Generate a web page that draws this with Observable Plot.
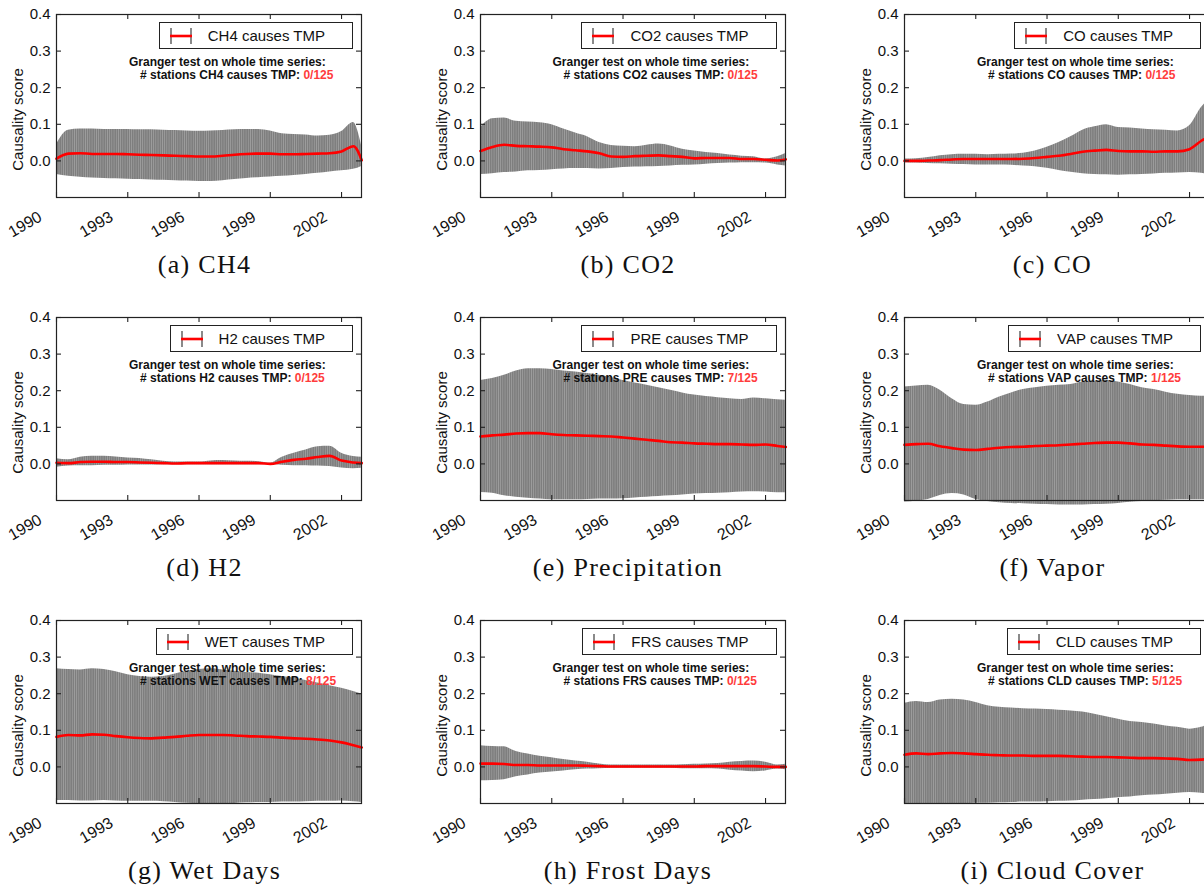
<!DOCTYPE html>
<html><head><meta charset="utf-8">
<script src="https://cdn.jsdelivr.net/npm/d3@7"></script>
<script src="https://cdn.jsdelivr.net/npm/@observablehq/plot@0.6"></script>
<style>
html,body{margin:0;padding:0;background:#fff;overflow:hidden;}
#root{position:relative;width:1204px;height:894px;overflow:hidden;background:#fff;}
.panel{position:absolute;}
.legend{position:absolute;display:flex;align-items:center;border:1px solid #222;background:#fff;height:27px;box-sizing:border-box;padding:0 27px 0 10px;font:15px "Liberation Sans",Arial,sans-serif;color:#111;white-space:nowrap;}
.legend svg{margin-right:16px;}
.ann{position:absolute;font:bold 12px "Liberation Sans",Arial,sans-serif;color:#111;white-space:nowrap;line-height:14px;}
.red{color:#ff3c3c;}
.cap{position:absolute;font:26px "Liberation Serif",serif;letter-spacing:1.3px;transform:translate(-50%,-50%);white-space:nowrap;color:#111;}
</style></head>
<body>
<svg width="0" height="0" style="position:absolute">
  <defs>
    <pattern id="stripes" patternUnits="userSpaceOnUse" width="2.2" height="10">
      <rect width="2.2" height="10" fill="#7e7e7e"></rect>
      <rect x="1.6" width="0.6" height="10" fill="#a6a6a6"></rect>
    </pattern>
  </defs>
</svg>
<div id="root"></div>
<script>
// ---- data ----
const years = [1990, 1990.5, 1991, 1991.5, 1992, 1992.5, 1993, 1993.5, 1994, 1994.5, 1995, 1995.5, 1996, 1996.5, 1997, 1997.5, 1998, 1998.5, 1999, 1999.5, 2000, 2000.5, 2001, 2001.5, 2002, 2002.5, 2002.85];
const xTicks = [1990, 1993, 1996, 1999, 2002];
const yTicks = [0.0, 0.1, 0.2, 0.3, 0.4];

const ch4Mean = [0.006,0.02,0.021,0.019,0.019,0.019,0.018,0.017,0.016,0.015,0.014,0.013,0.012,0.012,0.014,0.017,0.019,0.02,0.02,0.018,0.018,0.019,0.02,0.021,0.026,0.04,0.002];
const ch4Hi   = [0.045,0.084,0.087,0.087,0.086,0.086,0.086,0.085,0.085,0.084,0.083,0.082,0.081,0.082,0.083,0.085,0.086,0.086,0.082,0.074,0.072,0.071,0.068,0.07,0.08,0.105,0.04];
const ch4Lo   = [-0.037,-0.042,-0.045,-0.047,-0.048,-0.049,-0.05,-0.051,-0.052,-0.053,-0.054,-0.055,-0.056,-0.056,-0.054,-0.051,-0.048,-0.046,-0.044,-0.042,-0.04,-0.037,-0.034,-0.03,-0.027,-0.023,-0.015];

const co2Mean = [0.027,0.038,0.044,0.041,0.04,0.039,0.037,0.032,0.029,0.026,0.021,0.012,0.011,0.013,0.014,0.015,0.013,0.011,0.007,0.008,0.008,0.008,0.005,0.005,0.003,0.001,0.004];
const co2Hi   = [0.091,0.115,0.117,0.108,0.106,0.104,0.099,0.087,0.076,0.066,0.05,0.042,0.04,0.039,0.043,0.046,0.041,0.032,0.027,0.023,0.02,0.016,0.013,0.011,0.005,0.011,0.02];
const co2Lo   = [-0.037,-0.035,-0.032,-0.03,-0.027,-0.026,-0.024,-0.022,-0.021,-0.021,-0.022,-0.021,-0.018,-0.017,-0.016,-0.015,-0.014,-0.012,-0.011,-0.009,-0.007,-0.006,-0.005,-0.005,-0.006,-0.011,-0.014];

const coMean = [0.0,0.0,0.001,0.002,0.004,0.005,0.005,0.005,0.005,0.005,0.006,0.008,0.011,0.014,0.019,0.025,0.028,0.03,0.027,0.026,0.026,0.025,0.026,0.026,0.032,0.055,0.068];
const coHi   = [0.005,0.006,0.009,0.014,0.017,0.018,0.018,0.017,0.018,0.019,0.021,0.027,0.037,0.05,0.066,0.084,0.093,0.099,0.091,0.09,0.087,0.085,0.084,0.082,0.096,0.146,0.17];
const coLo   = [-0.005,-0.006,-0.007,-0.008,-0.009,-0.01,-0.011,-0.011,-0.011,-0.012,-0.014,-0.016,-0.02,-0.026,-0.031,-0.035,-0.037,-0.038,-0.039,-0.038,-0.037,-0.036,-0.034,-0.033,-0.032,-0.034,-0.038];

const h2Mean = [0.003,0.002,0.005,0.006,0.006,0.005,0.005,0.004,0.003,0.002,0.001,0.002,0.002,0.002,0.002,0.002,0.002,0.002,0.0,0.006,0.011,0.014,0.019,0.022,0.009,0.004,0.002];
const h2Hi   = [0.014,0.011,0.018,0.021,0.021,0.019,0.016,0.015,0.011,0.007,0.005,0.005,0.005,0.008,0.009,0.008,0.007,0.006,0.002,0.018,0.029,0.038,0.047,0.048,0.029,0.02,0.018];
const h2Lo   = [-0.009,-0.006,-0.005,-0.005,-0.004,-0.004,-0.003,-0.003,-0.003,-0.002,-0.002,-0.002,-0.002,-0.002,-0.002,-0.002,-0.002,-0.002,-0.001,-0.004,-0.005,-0.005,-0.006,-0.007,-0.011,-0.013,-0.012];

const preMean = [0.075,0.078,0.08,0.083,0.084,0.084,0.081,0.079,0.078,0.077,0.076,0.075,0.072,0.069,0.066,0.063,0.059,0.058,0.056,0.055,0.054,0.054,0.053,0.052,0.053,0.049,0.046];
const preHi   = [0.228,0.233,0.242,0.254,0.26,0.26,0.258,0.254,0.251,0.247,0.242,0.236,0.228,0.221,0.215,0.208,0.201,0.194,0.188,0.184,0.181,0.178,0.176,0.18,0.178,0.175,0.174];
const preLo   = [-0.078,-0.08,-0.087,-0.091,-0.094,-0.096,-0.098,-0.098,-0.098,-0.097,-0.096,-0.096,-0.095,-0.093,-0.091,-0.089,-0.087,-0.085,-0.082,-0.081,-0.08,-0.079,-0.077,-0.076,-0.077,-0.079,-0.079];

const vapMean = [0.052,0.054,0.055,0.048,0.043,0.039,0.038,0.041,0.044,0.046,0.047,0.049,0.05,0.051,0.053,0.055,0.057,0.058,0.058,0.056,0.053,0.052,0.05,0.048,0.047,0.047,0.047];
const vapHi   = [0.21,0.213,0.215,0.201,0.178,0.162,0.16,0.169,0.183,0.194,0.203,0.208,0.212,0.215,0.217,0.224,0.226,0.228,0.224,0.217,0.208,0.203,0.196,0.19,0.187,0.185,0.185];
const vapLo   = [-0.104,-0.102,-0.097,-0.086,-0.081,-0.085,-0.097,-0.103,-0.106,-0.108,-0.109,-0.11,-0.111,-0.112,-0.112,-0.112,-0.111,-0.11,-0.108,-0.105,-0.103,-0.1,-0.099,-0.098,-0.098,-0.098,-0.098];

const wetMean = [0.082,0.087,0.086,0.089,0.088,0.084,0.081,0.079,0.078,0.08,0.082,0.085,0.087,0.087,0.087,0.086,0.084,0.083,0.082,0.08,0.078,0.077,0.075,0.072,0.067,0.059,0.053];
const wetHi   = [0.268,0.266,0.265,0.268,0.266,0.26,0.252,0.247,0.245,0.247,0.254,0.261,0.266,0.268,0.265,0.261,0.258,0.256,0.252,0.247,0.243,0.236,0.229,0.222,0.215,0.206,0.199];
const wetLo   = [-0.092,-0.092,-0.093,-0.093,-0.092,-0.093,-0.094,-0.094,-0.094,-0.095,-0.097,-0.099,-0.1,-0.102,-0.102,-0.1,-0.098,-0.097,-0.097,-0.096,-0.096,-0.095,-0.094,-0.094,-0.093,-0.095,-0.097];

const frsMean = [0.009,0.009,0.008,0.005,0.005,0.004,0.004,0.004,0.004,0.003,0.002,0.001,0.001,0.001,0.001,0.001,0.001,0.001,0.001,0.002,0.002,0.002,0.002,0.002,0.001,0.0,0.0];
const frsHi   = [0.058,0.056,0.055,0.042,0.035,0.029,0.025,0.02,0.016,0.013,0.008,0.005,0.005,0.005,0.005,0.005,0.005,0.006,0.007,0.008,0.009,0.013,0.015,0.016,0.013,0.005,0.007];
const frsLo   = [-0.038,-0.037,-0.035,-0.027,-0.022,-0.017,-0.014,-0.011,-0.008,-0.006,-0.005,-0.004,-0.004,-0.004,-0.004,-0.004,-0.004,-0.005,-0.005,-0.005,-0.006,-0.009,-0.011,-0.013,-0.011,-0.006,-0.008];

const cldMean = [0.033,0.037,0.035,0.037,0.038,0.037,0.035,0.033,0.032,0.031,0.031,0.03,0.03,0.03,0.029,0.028,0.027,0.027,0.026,0.025,0.024,0.024,0.023,0.022,0.019,0.02,0.022];
const cldHi   = [0.174,0.179,0.176,0.183,0.185,0.183,0.176,0.167,0.163,0.161,0.159,0.158,0.157,0.155,0.153,0.15,0.144,0.137,0.13,0.124,0.121,0.117,0.112,0.108,0.103,0.108,0.119];
const cldLo   = [-0.102,-0.102,-0.101,-0.101,-0.1,-0.1,-0.099,-0.099,-0.098,-0.097,-0.096,-0.096,-0.095,-0.094,-0.093,-0.091,-0.089,-0.087,-0.084,-0.082,-0.079,-0.077,-0.075,-0.072,-0.07,-0.072,-0.075];

const panelCodes    = ["CH4", "CO2", "CO", "H2", "PRE", "VAP", "WET", "FRS", "CLD"];
const panelCaptions = ["(a) CH4", "(b) CO2", "(c) CO", "(d) H2", "(e) Precipitation", "(f) Vapor", "(g) Wet Days", "(h) Frost Days", "(i) Cloud Cover"];
const stationCounts = ["0/125", "0/125", "0/125", "0/125", "7/125", "1/125", "8/125", "0/125", "5/125"];
const panelSeries = [
  [ch4Mean, ch4Lo, ch4Hi], [co2Mean, co2Lo, co2Hi], [coMean, coLo, coHi],
  [h2Mean, h2Lo, h2Hi], [preMean, preLo, preHi], [vapMean, vapLo, vapHi],
  [wetMean, wetLo, wetHi], [frsMean, frsLo, frsHi], [cldMean, cldLo, cldHi]
];

// ---- layout ----
const colLeft = [56, 479.5, 904];
const rowTop = [14, 317.3, 620];
const FW = 305, FH = 183, ML = 56, MR = 40, MT = 14, MB = 43;
const root = document.getElementById("root");
const sansFont = '"Liberation Sans", Arial, sans-serif';

panelCodes.forEach((code, k) => {
  const fl = colLeft[k % 3], ft = rowTop[Math.floor(k / 3)];
  const [mean, lo, hi] = panelSeries[k];
  const data = years.map((x, i) => ({x, m: mean[i], lo: lo[i], hi: hi[i]}));

  const chart = Plot.plot({
    width: ML + FW + MR, height: MT + FH + MB,
    marginLeft: ML, marginRight: MR, marginTop: MT, marginBottom: MB,
    x: {domain: [1990, 2002.84]},
    y: {domain: [-0.1, 0.4]},
    style: {fontFamily: sansFont, fontSize: "15px", color: "#111", background: "transparent", overflow: "visible"},
    marks: [
      Plot.areaY(data, {x: "x", y1: "lo", y2: "hi", curve: "monotone-x", fill: "url(#stripes)"}),
      Plot.line(data, {x: "x", y: "m", curve: "monotone-x", stroke: "#ff0000", strokeWidth: 2.6}),
      Plot.frame({stroke: "#222", strokeWidth: 1.2}),
      Plot.tickX(xTicks, {x: d => d, insetTop: FH - 5, stroke: "#222", strokeWidth: 1.1}),
      Plot.tickX(xTicks, {x: d => d, insetBottom: FH - 5, stroke: "#222", strokeWidth: 1.1}),
      Plot.tickY(yTicks, {y: d => d, insetRight: FW - 5, stroke: "#222", strokeWidth: 1.1}),
      Plot.tickY(yTicks, {y: d => d, insetLeft: FW - 5, stroke: "#222", strokeWidth: 1.1}),
      Plot.axisX({ticks: xTicks, tickSize: 0, tickPadding: 18, tickRotate: -30, dx: -16,
                  tickFormat: d => String(d), label: null, fontSize: 16}),
      Plot.axisY({ticks: yTicks, tickSize: 0, tickPadding: 6, tickFormat: d3.format(".1f"), label: null, fontSize: 15}),
      Plot.text(["Causality score"], {frameAnchor: "left", textAnchor: "middle", lineAnchor: "middle", rotate: -90, dx: -38, dy: 13.5, fontSize: 15, fill: "#111"})
    ]
  });
  chart.classList.add("panel");
  chart.style.left = (fl - ML) + "px";
  chart.style.top = (ft - MT) + "px";
  root.appendChild(chart);

  // legend box
  const leg = document.createElement("div");
  leg.className = "legend";
  leg.style.right = (1204 - (fl + FW - 8)) + "px";
  leg.style.top = (ft + 8) + "px";
  leg.innerHTML = '<svg width="22" height="18"><line x1="1" x2="1" y1="1" y2="17" stroke="#8a8a8a" stroke-width="2"/>' +
    '<line x1="21" x2="21" y1="1" y2="17" stroke="#8a8a8a" stroke-width="2"/>' +
    '<line x1="0" x2="22" y1="9" y2="9" stroke="#ff0000" stroke-width="2.6"/></svg>' +
    '<span>' + code + ' causes TMP</span>';
  root.appendChild(leg);

  // annotation
  const a1 = document.createElement("div");
  a1.className = "ann";
  a1.style.left = (fl + 73) + "px";
  a1.style.top = (ft + 40.5) + "px";
  a1.textContent = "Granger test on whole time series:";
  root.appendChild(a1);
  const a2 = document.createElement("div");
  a2.className = "ann";
  a2.style.left = (fl + 84) + "px";
  a2.style.top = (ft + 54) + "px";
  a2.innerHTML = "# stations " + code + " causes TMP: <span class='red'>" + stationCounts[k] + "</span>";
  root.appendChild(a2);

  // caption
  const cap = document.createElement("div");
  cap.className = "cap";
  cap.style.left = (fl + FW / 2 - 4) + "px";
  cap.style.top = (ft + 251) + "px";
  cap.textContent = panelCaptions[k];
  root.appendChild(cap);
});
</script>
</body></html>
